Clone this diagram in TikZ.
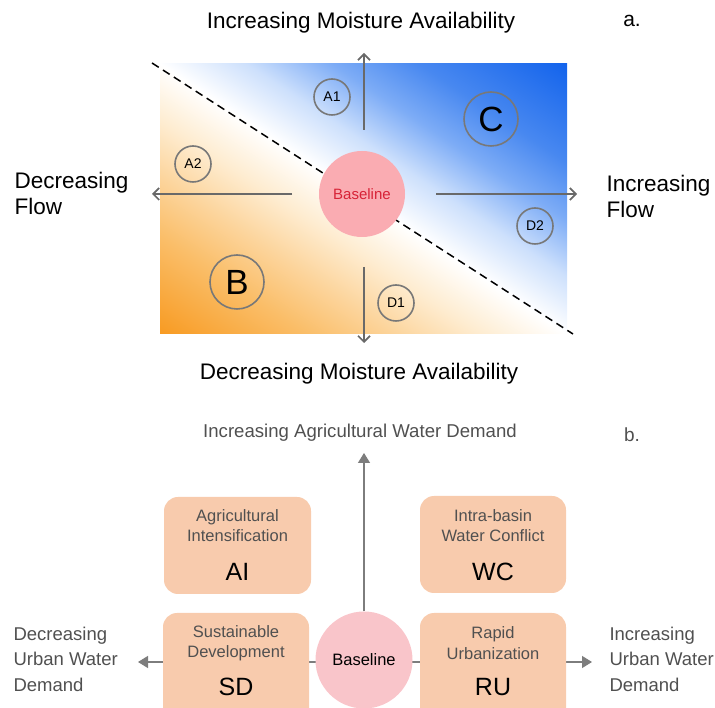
\documentclass[tikz,border=0pt]{standalone}
\usepackage{fontspec}
\setmainfont{Liberation Sans}
\usetikzlibrary{arrows.meta}
\definecolor{or1}{RGB}{248,155,35}
\definecolor{or2}{RGB}{250,190,105}
\definecolor{or3}{RGB}{252,212,155}
\definecolor{or4}{RGB}{254,236,208}
\definecolor{bl4}{RGB}{205,224,252}
\definecolor{bl3}{RGB}{125,172,246}
\definecolor{bl2}{RGB}{72,136,240}
\definecolor{bl1}{RGB}{20,100,236}
\definecolor{axgray}{RGB}{105,105,105}
\definecolor{cgray}{RGB}{120,120,120}
\definecolor{pinkA}{RGB}{250,172,178}
\definecolor{redA}{RGB}{215,35,55}
\definecolor{pinkB}{RGB}{249,197,202}
\definecolor{peach}{RGB}{248,203,173}
\definecolor{txtgray}{RGB}{80,80,80}
\definecolor{bgray}{RGB}{125,125,125}
\pgfdeclareverticalshading{panelshade}{100bp}{color(0bp)=(or1); color(31.25bp)=(or1); color(38bp)=(or2); color(42bp)=(or3); color(46bp)=(or4); color(50bp)=(white); color(54bp)=(bl4); color(58bp)=(bl3); color(62bp)=(bl2); color(68.75bp)=(bl1); color(100bp)=(bl1)}
\tikzset{
  axarrow/.style={draw=axgray, line width=1.7pt, -{Straight Barb[length=6pt,width=12pt,line width=1.7pt]}},
  scen/.style={circle, draw=cgray, line width=1.6pt, inner sep=0pt},
  bigtxt/.style={font=\fontsize{22.5}{26}\selectfont, text=black},
  boxb/.style={draw=none, fill=peach, rounded corners=14pt, inner sep=0pt},
  smalltxt/.style={font=\fontsize{16.5}{20.5}\selectfont, text=txtgray, align=center},
  codetxt/.style={font=\fontsize{25}{28}\selectfont, text=black},
  sidetxt/.style={font=\fontsize{18.5}{25.5}\selectfont, text=txtgray, align=left},
  barrow/.style={draw=bgray, line width=1.3pt, -{Triangle[length=10pt,width=12pt]}}
}
\begin{document}
\begin{tikzpicture}[x=1pt,y=1pt]
\useasboundingbox (0,0) rectangle (715,707);
% ---------- panel a ----------
\begin{scope}
  \clip (160,373) rectangle (567,643);
  \shade[shading=panelshade, shading angle=-33.6] (63.5,208) rectangle (663.5,808);
\end{scope}
\coordinate (dashS) at (152,644);
\coordinate (dashE) at (573,373);
\draw[black, line width=1.5pt, dash pattern=on 8pt off 5pt] (dashS) -- (dashE);

\node[circle, fill=pinkA, minimum size=86pt, inner sep=0pt] (baseA) at (362,513) {};
\node[text=redA, font=\fontsize{15}{18}\selectfont] (baseAt) at (baseA) {Baseline};

\coordinate (upS) at (364,577);   \coordinate (upE) at (364,654);
\coordinate (dnS) at (364,440);   \coordinate (dnE) at (364,364);
\coordinate (lfS) at (292,513);   \coordinate (lfE) at (152,513);
\coordinate (rtS) at (436,513);   \coordinate (rtE) at (577,513);
\draw[axarrow] (upS) -- (upE);
\draw[axarrow] (dnS) -- (dnE);
\draw[axarrow] (lfS) -- (lfE);
\draw[axarrow] (rtS) -- (rtE);

\node[scen, minimum size=36pt, font=\fontsize{14}{16}\selectfont] (A1) at (332,610) {A1};
\node[scen, minimum size=36pt, font=\fontsize{14}{16}\selectfont] (A2) at (193,543) {A2};
\node[scen, minimum size=36pt, font=\fontsize{14}{16}\selectfont] (D2) at (535,481) {D2};
\node[scen, minimum size=36pt, font=\fontsize{14}{16}\selectfont] (D1) at (396,404) {D1};
\node[scen, minimum size=54pt, font=\fontsize{35}{38}\selectfont] (C) at (491,588) {C};
\node[scen, minimum size=54pt, font=\fontsize{35}{38}\selectfont] (B) at (237,425) {B};

\node[bigtxt] (topA) at (361,684) {Increasing Moisture Availability};
\node[bigtxt] (botA) at (359,333) {Decreasing Moisture Availability};
\node[bigtxt, align=left, anchor=west] (leftA) at (11,514) {Decreasing\\Flow};
\node[bigtxt, align=left, anchor=west] (rightA) at (603,511) {Increasing\\Flow};
\node[bigtxt, font=\fontsize{21}{24}\selectfont] (labA) at (632,686) {a.};

% ---------- panel b ----------
\coordinate (hL) at (138,45);
\coordinate (hR) at (592,45);
\coordinate (vT) at (364,254);
\draw[barrow] (364,45) -- (hL);
\draw[barrow] (364,45) -- (hR);

\node[boxb, minimum width=147pt, minimum height=97pt] (AI) at (237.5,161.5) {};
\node[boxb, minimum width=146pt, minimum height=97pt] (WC) at (493,162.5) {};
\node[boxb, minimum width=146pt, minimum height=110pt] (SD) at (236,39) {};
\node[boxb, minimum width=146pt, minimum height=110pt] (RU) at (493,39) {};

\node[circle, fill=pinkB, minimum size=97pt, inner sep=0pt] (baseB) at (364,47) {};
\node[font=\fontsize{16.5}{19}\selectfont, text=black] (baseBt) at (baseB) {Baseline};
\draw[barrow] (baseB.north) -- (vT);

\node[smalltxt] (AIt) at (237.5,181.5) {Agricultural\\Intensification};
\node[codetxt] (AIc) at (237.5,135) {AI};
\node[smalltxt] (WCt) at (493,181.5) {Intra-basin\\Water Conflict};
\node[codetxt] (WCc) at (493,135) {WC};
\node[smalltxt] (SDt) at (236,64) {Sustainable\\Development};
\node[codetxt] (SDc) at (236,20) {SD};
\node[smalltxt] (RUt) at (493,64) {Rapid\\Urbanization};
\node[codetxt] (RUc) at (493,20) {RU};

\node[font=\fontsize{18.6}{21}\selectfont, text=txtgray] (topB) at (360,274) {Increasing Agricultural Water Demand};
\node[font=\fontsize{19}{22}\selectfont, text=txtgray] (labB) at (632,272) {b.};
\node[sidetxt, anchor=west] (leftB) at (10,48) {Decreasing\\Urban Water\\Demand};
\node[sidetxt, anchor=west] (rightB) at (606,48) {Increasing\\Urban Water\\Demand};
\end{tikzpicture}
\end{document}
